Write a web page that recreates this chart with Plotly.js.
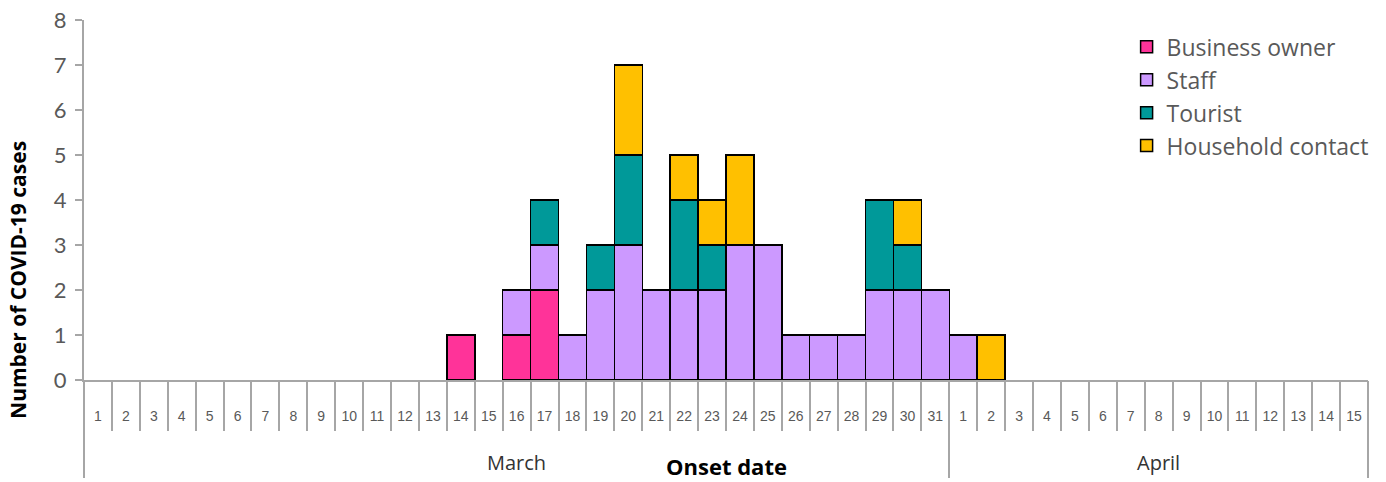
<!DOCTYPE html>
<html>
<head>
<meta charset="utf-8">
<script src="https://cdn.plot.ly/plotly-3.0.1.min.js"></script>
<style>html,body{margin:0;padding:0;background:#fff;}#chart{width:1386px;height:482px;}</style>
</head>
<body>
<div id="chart"></div>
<script>
// Day labels: March 1-31, April 1-15
const marchDays = Array.from({length: 31}, (_, i) => String(i + 1));
const aprilDays = Array.from({length: 15}, (_, i) => String(i + 1));
const dayLabels = marchDays.concat(aprilDays);
const months = ["March", "April"];
const monthLengths = [31, 15];

// Series values per day (46 days)
const businessOwner = [0,0,0,0,0,0,0,0,0,0, 0,0,0,1,0,1,2,0,0,0, 0,0,0,0,0,0,0,0,0,0, 0, 0,0,0,0,0,0,0,0,0,0,0,0,0,0,0];
const staff         = [0,0,0,0,0,0,0,0,0,0, 0,0,0,0,0,1,1,1,2,3, 2,2,2,3,3,1,1,1,2,2, 2, 1,0,0,0,0,0,0,0,0,0,0,0,0,0,0];
const tourist       = [0,0,0,0,0,0,0,0,0,0, 0,0,0,0,0,0,1,0,1,2, 0,2,1,0,0,0,0,0,2,1, 0, 0,0,0,0,0,0,0,0,0,0,0,0,0,0,0];
const household     = [0,0,0,0,0,0,0,0,0,0, 0,0,0,0,0,0,0,0,0,2, 0,1,1,2,0,0,0,0,0,1, 0, 0,1,0,0,0,0,0,0,0,0,0,0,0,0,0];

const seriesNames = ["Business owner", "Staff", "Tourist", "Household contact"];
const seriesData = [businessOwner, staff, tourist, household];
const seriesColors = ["#FF3399", "#CC99FF", "#009999", "#FFC000"];
const yTicks = [0,1,2,3,4,5,6,7,8];

const idx = dayLabels.map((_, i) => i);
const traces = seriesData.map((vals, s) => ({
  type: 'bar',
  name: seriesNames[s],
  x: idx,
  y: vals.map(v => v === 0 ? null : v),
  marker: {color: seriesColors[s], line: {color: '#000000', width: 1.5}},
  hoverinfo: 'skip'
}));

// boundaries between days and between months
const dayBounds = idx.map(i => i - 0.5).concat([idx.length - 0.5]);
const monthBounds = [-0.5];
let acc = -0.5;
monthLengths.forEach(n => { acc += n; monthBounds.push(acc); });
const monthCenters = [];
let start = 0;
monthLengths.forEach(n => { monthCenters.push(start + (n - 1) / 2); start += n; });

// dummy traces to activate overlay axes
traces.push({type: 'scatter', x: [0], y: [0], xaxis: 'x2', mode: 'none', showlegend: false, hoverinfo: 'skip'});
traces.push({type: 'scatter', x: [0], y: [0], xaxis: 'x3', mode: 'none', showlegend: false, hoverinfo: 'skip'});

const gray = '#A6A6A6';
const textGray = '#595959';
const xr = [-0.5, idx.length - 0.5];

const annotations = months.map((m, i) => ({
  text: m, x: monthCenters[i], xref: 'x', y: -0.228, yref: 'paper',
  showarrow: false, xanchor: 'center', yanchor: 'middle',
  font: {family: 'Open Sans, sans-serif', size: 20, color: '#333333'}
}));
annotations.push({
  text: '<b>Onset date</b>', x: 0.5, xref: 'paper', y: -0.283, yref: 'paper',
  showarrow: false, xanchor: 'center', yanchor: 'bottom', borderpad: 0,
  font: {family: 'Open Sans, sans-serif', size: 22, color: '#000000'}
});
annotations.push({
  text: '<b>Number of COVID-19 cases</b>', x: (18 - 84) / 1284, xref: 'paper', xanchor: 'center',
  y: 0.278, yref: 'paper', yanchor: 'middle', textangle: -90, showarrow: false,
  font: {family: 'Open Sans, sans-serif', size: 21, color: '#000000'}
});

const layout = {
  width: 1386, height: 482,
  margin: {l: 84, r: 18, t: 20, b: 102},
  barmode: 'stack', bargap: 0,
  paper_bgcolor: '#ffffff', plot_bgcolor: '#ffffff',
  showlegend: true,
  legend: {x: 0.812, xanchor: 'left', y: 0.985, yanchor: 'top', bgcolor: 'rgba(0,0,0,0)', traceorder: 'normal',
           font: {family: 'Open Sans, sans-serif', size: 23, color: textGray}, tracegroupgap: 0, itemwidth: 30},
  xaxis: {
    range: xr, tickmode: 'array', tickvals: idx, ticktext: dayLabels, ticks: '',
    ticklabelstandoff: 22, showgrid: false, zeroline: false, showline: true, linecolor: gray, linewidth: 2,
    tickfont: {family: 'Liberation Sans, Arial, sans-serif', size: 14, color: textGray}, fixedrange: true
  },
  xaxis2: {
    overlaying: 'x', anchor: 'y', side: 'bottom', range: xr, tickmode: 'array', tickvals: dayBounds,
    ticktext: dayBounds.map(() => ''), ticks: 'outside', ticklen: 50, tickwidth: 2, tickcolor: gray,
    showgrid: false, zeroline: false, showline: false, showticklabels: true
  },
  xaxis3: {
    overlaying: 'x', anchor: 'y', side: 'bottom', range: xr, tickmode: 'array', tickvals: monthBounds,
    ticktext: monthBounds.map(() => ''), ticks: 'outside', ticklen: 97, tickwidth: 2, tickcolor: gray,
    showgrid: false, zeroline: false, showline: false, showticklabels: true
  },
  yaxis: {
    range: [0, 8], tickmode: 'array', tickvals: yTicks, ticktext: yTicks.map(String),
    ticks: 'outside', ticklen: 7, tickwidth: 2, tickcolor: gray, showline: true, linecolor: gray, linewidth: 2,
    showgrid: false, zeroline: false, ticklabelstandoff: 4,
    tickfont: {family: 'Lato, sans-serif', size: 22, color: textGray}, fixedrange: true
  },
  annotations: annotations
};

Plotly.newPlot('chart', traces, layout, {displayModeBar: false, staticPlot: true});
</script>
</body>
</html>
